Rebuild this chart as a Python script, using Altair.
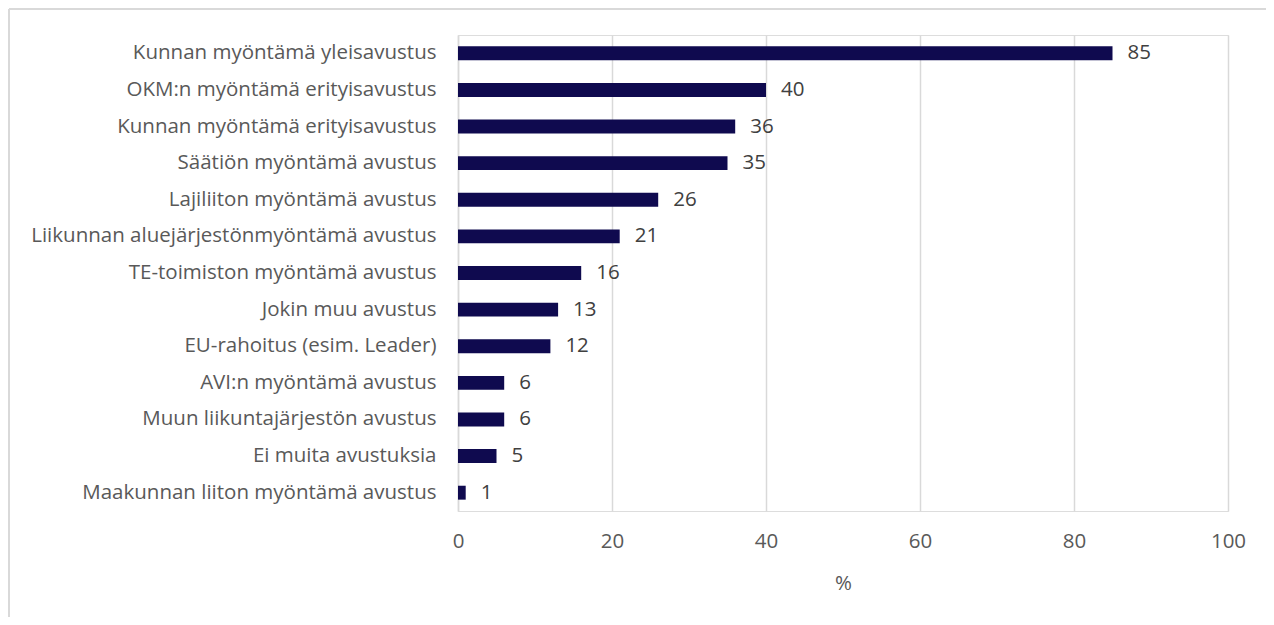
import altair as alt
import pandas as pd

categories = [
    "Kunnan myöntämä yleisavustus",
    "OKM:n myöntämä erityisavustus",
    "Kunnan myöntämä erityisavustus",
    "Säätiön myöntämä avustus",
    "Lajiliiton myöntämä avustus",
    "Liikunnan aluejärjestönmyöntämä avustus",
    "TE-toimiston myöntämä avustus",
    "Jokin muu avustus",
    "EU-rahoitus (esim. Leader)",
    "AVI:n myöntämä avustus",
    "Muun liikuntajärjestön avustus",
    "Ei muita avustuksia",
    "Maakunnan liiton myöntämä avustus",
]
values = [85, 40, 36, 35, 26, 21, 16, 13, 12, 6, 6, 5, 1]
x_ticks = [0, 20, 40, 60, 80, 100]

df = pd.DataFrame({"cat": categories, "val": values})

FONT = "Open Sans"
TXT = "#595959"
BAR = "#0F0A4F"
FS = 20.5
W, H = 770, 476

y_enc = alt.Y("cat:N", sort=categories, title=None,
              scale=alt.Scale(paddingInner=0.62, paddingOuter=0.31),
              axis=alt.Axis(labelFont=FONT, labelFontSize=FS, labelColor=TXT,
                            labelPadding=22, ticks=False, domainColor="#D9D9D9",
                            domainWidth=1.5, labelLimit=500, grid=False))
x_enc = alt.X("val:Q", title="%", scale=alt.Scale(domain=[0, 100], nice=False),
              axis=alt.Axis(values=x_ticks, labelFont=FONT, labelFontSize=FS,
                            labelColor=TXT, labelPadding=20, ticks=False,
                            labelFlush=False,
                            domain=False, grid=True, gridColor="#D9D9D9",
                            gridWidth=1.5, titleFont=FONT, titleFontSize=FS,
                            titleColor=TXT, titleFontWeight="normal",
                            titlePadding=22))

bars = alt.Chart(df).mark_bar(color=BAR).encode(x=x_enc, y=y_enc)
labels = alt.Chart(df).mark_text(align="left", baseline="middle", dx=15,
                                 font=FONT, fontSize=FS, color="#404040").encode(
    x=alt.X("val:Q"), y=alt.Y("cat:N", sort=categories), text="val:Q")

frame_top = alt.Chart(df).mark_rule(color="#D9D9D9", strokeWidth=2).encode(
    x=alt.value(-449), x2=alt.value(900), y=alt.value(-26))
frame_left = alt.Chart(df).mark_rule(color="#D9D9D9", strokeWidth=2).encode(
    x=alt.value(-449), y=alt.value(-26), y2=alt.value(700))

chart = alt.layer(frame_top, frame_left, bars, labels).properties(
    width=W, height=H,
    autosize=alt.AutoSizeParams(type="none"),
    padding={"left": 450, "top": 27, "right": 38, "bottom": 106},
).configure_view(stroke="transparent", strokeWidth=0, fill="white").configure(background="white")

chart.save("out.html", embed_options={"renderer": "svg", "actions": False})
